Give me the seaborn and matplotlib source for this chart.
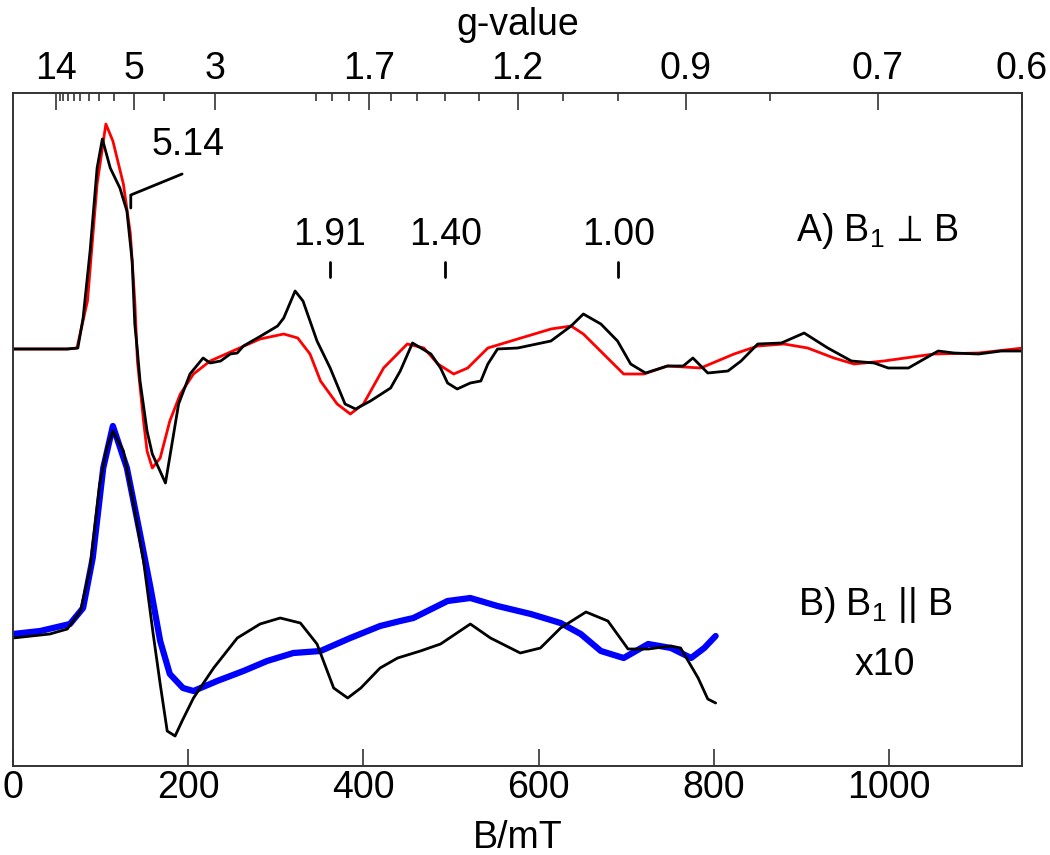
import numpy as np
import pandas as pd
import matplotlib
matplotlib.use("Agg")
import matplotlib.pyplot as plt
import seaborn as sns

# g = C_MT / B  (X-band, ~9.67 GHz)
C_MT = 691.0

# A) perpendicular mode: experiment (black) and simulation (red), field in mT
A_EXP_B = [0, 62, 74, 80, 88, 96, 102, 111, 122, 130, 136, 139, 142, 145, 153, 159, 174, 182, 189, 202,
           217, 225, 237, 248, 256, 263, 279, 302, 309, 322, 331, 347, 362, 379, 391, 408, 431, 442, 456,
           477, 488, 496, 507, 522, 534, 542, 553, 576, 614, 637, 651, 671, 690, 705, 722, 747, 765, 776,
           793, 816, 831, 850, 877, 903, 930, 957, 983, 999, 1022, 1040, 1056, 1074, 1102, 1128, 1153]
A_EXP_I = [0, 0, 1, 31, 98, 181, 210, 181, 161, 138, 88, 25, -2, -32, -82, -105, -134, -92, -55, -25,
           -9, -14, -12, -5, -4, 3, 11, 23, 31, 58, 48, 8, -19, -55, -60, -52, -39, -22, 6,
           -5, -19, -34, -40, -34, -32, -15, 0, 1, 8, 23, 35, 25, 8, -15, -24, -17, -17, -9,
           -24, -22, -12, 5, 6, 16, 1, -12, -14, -19, -19, -10, -2, -4, -5, -2, -2]

A_SIM_B = [0, 62, 73, 85, 96, 106, 114, 126, 134, 139, 142, 149, 153, 159, 168, 179, 191, 206, 225, 256,
           282, 309, 325, 339, 351, 370, 385, 400, 423, 450, 469, 485, 503, 519, 542, 576, 614, 637, 651,
           674, 697, 720, 747, 785, 823, 850, 880, 907, 937, 960, 994, 1051, 1102, 1153]
A_SIM_I = [0, 0, 1, 48, 165, 225, 208, 165, 115, 48, -12, -72, -102, -119, -109, -72, -45, -25, -12, 0,
           10, 15, 11, -5, -32, -55, -65, -55, -19, 5, 1, -15, -25, -19, 1, 10, 20, 23, 15,
           -5, -25, -25, -17, -19, -5, 3, 5, 1, -9, -15, -12, -5, -4, 1]

# B) parallel mode: perpendicular trace (black) and parallel x10 (blue)
B_EXP_B = [0, 42, 62, 77, 88, 99, 107, 114, 126, 137, 149, 160, 168, 176, 185, 193, 206, 229, 256, 282,
           305, 328, 347, 366, 382, 397, 419, 439, 465, 488, 522, 545, 579, 602, 625, 654, 679, 702, 725,
           751, 762, 782, 793, 802]
B_EXP_I = [-2, 2, 7, 25, 68, 152, 188, 205, 185, 135, 75, 2, -48, -95, -100, -85, -62, -32, -2, 12,
           18, 13, -8, -52, -62, -52, -32, -22, -15, -8, 12, -2, -17, -12, 8, 24, 15, -13, -13,
           -10, -12, -42, -63, -67]

B_PAR_B = [0, 31, 65, 80, 91, 103, 114, 130, 145, 157, 168, 179, 194, 206, 233, 263, 290, 320, 351, 385,
           419, 442, 457, 496, 522, 553, 591, 625, 648, 671, 697, 725, 751, 774, 789, 802]
B_PAR_I = [2, 5, 12, 28, 78, 168, 210, 168, 102, 48, -5, -38, -52, -55, -45, -35, -25, -17, -15, -2,
           10, 15, 18, 35, 38, 30, 22, 13, 2, -15, -22, -8, -12, -22, -12, 0]

A_OFFSET = 417
B_OFFSET = 130

G_MAJOR = [14, 5, 3, 1.7, 1.2, 0.9, 0.7, 0.6]
G_MAJOR_LABELS = ["14", "5", "3", "1.7", "1.2", "0.9", "0.7", "0.6"]
G_MINOR = [13, 12, 11, 10, 9, 8, 7, 6, 4, 2, 1.9, 1.8, 1.6, 1.5, 1.4, 1.3, 1.1, 1.0, 0.8]
G_MARKS = [1.91, 1.40, 1.00]
G_MARK_LABELS = ["1.91", "1.40", "1.00"]

sns.set_style("white")
plt.rcParams["font.family"] = ["Liberation Sans", "DejaVu Sans"]
plt.rcParams["mathtext.fontset"] = "custom"
plt.rcParams["mathtext.rm"] = "Liberation Sans"
plt.rcParams["mathtext.it"] = "Liberation Sans:italic"
plt.rcParams["mathtext.bf"] = "Liberation Sans:bold"
plt.rcParams["text.color"] = "black"
plt.rcParams["axes.labelcolor"] = "black"
plt.rcParams["xtick.color"] = "black"
plt.rcParams["xtick.labelcolor"] = "black"
FS = 27
SPINE = "#333333"

fig = plt.figure(figsize=(10.5, 8.55), dpi=100)
ax = fig.add_axes([13 / 1050, 1 - 766 / 855, (1022 - 13) / 1050, (766 - 93) / 855])

a_sim = pd.DataFrame({"B": A_SIM_B, "I": np.array(A_SIM_I) + A_OFFSET})
a_exp = pd.DataFrame({"B": A_EXP_B, "I": np.array(A_EXP_I) + A_OFFSET})
b_par = pd.DataFrame({"B": B_PAR_B, "I": np.array(B_PAR_I) + B_OFFSET})
b_exp = pd.DataFrame({"B": B_EXP_B, "I": np.array(B_EXP_I) + B_OFFSET})

sns.lineplot(data=a_sim, x="B", y="I", ax=ax, color="#ff0000", lw=2.0, sort=False)
sns.lineplot(data=a_exp, x="B", y="I", ax=ax, color="black", lw=2.0, sort=False)
sns.lineplot(data=b_par, x="B", y="I", ax=ax, color="#0000ff", lw=4.5, sort=False)
sns.lineplot(data=b_exp, x="B", y="I", ax=ax, color="black", lw=2.0, sort=False)

xmax = C_MT / 0.6
ax.set_xlim(0, xmax)
ax.set_ylim(0, 673)
ax.set_yticks([])
ax.set_ylabel("")
ax.set_xticks([0, 200, 400, 600, 800, 1000])
ax.set_xlabel("B/mT", fontsize=FS, labelpad=10)
ax.tick_params(axis="x", direction="in", length=12, width=1.2, color=SPINE,
               labelsize=FS, pad=3, labelcolor="black")
for sp in ax.spines.values():
    sp.set_visible(True)
    sp.set_color(SPINE)
    sp.set_linewidth(1.2)

# top g-value axis
ax2 = ax.twiny()
ax2.set_xlim(ax.get_xlim())
ax2.set_xticks([C_MT / g for g in G_MAJOR])
ax2.set_xticklabels(G_MAJOR_LABELS)
ax2.set_xticks([C_MT / g for g in G_MINOR], minor=True)
ax2.tick_params(axis="x", which="major", direction="in", length=12, width=1.2,
                color=SPINE, labelsize=FS, pad=4, labelcolor="black")
ax2.tick_params(axis="x", which="minor", direction="in", length=6, width=1.2, color=SPINE)
ax2.set_xlabel("g-value", fontsize=FS, labelpad=12)
for sp in ax2.spines.values():
    sp.set_color(SPINE)
    sp.set_linewidth(1.2)

# g-value markers in spectrum A
for g, lab in zip(G_MARKS, G_MARK_LABELS):
    b = C_MT / g
    ax.plot([b, b], [489, 504], color="black", lw=2)
    ax.text(b, 531, lab, fontsize=FS, ha="center", va="center")

b514 = C_MT / 5.14
ax.plot([b514, b514, 193], [558, 571, 592], color="black", lw=2)
ax.text(200, 621, "5.14", fontsize=FS, ha="center", va="center")

ax.text(894, 535, r"A) B$_1\,\perp\,$B", fontsize=FS, ha="left", va="center")
ax.text(896, 161, "B) B$_1$ || B", fontsize=FS, ha="left", va="center")
ax.text(995, 101, "x10", fontsize=FS, ha="center", va="center")

fig.savefig("out.png", dpi=100)
